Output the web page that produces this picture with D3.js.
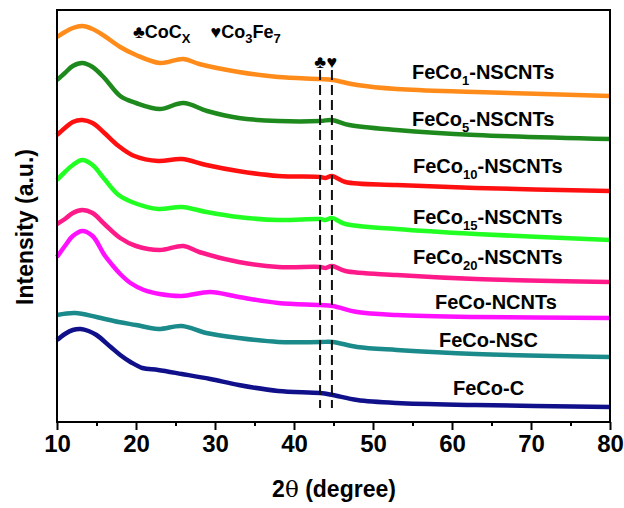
<!DOCTYPE html>
<html>
<head>
<meta charset="utf-8">
<title>XRD patterns</title>
<script src="https://d3js.org/d3.v7.min.js"></script>
<style>
  body { margin: 0; background: #fff; }
  svg text { font-family: Arial, "Liberation Sans", sans-serif; font-weight: bold; fill: #000; }
</style>
</head>
<body>
<div id="chart"></div>
<script>
// readings of each pattern: [2theta, intensity (a.u.)]
var feco1 = [[10,385],[11,390],[12,394],[13.2,396],[14.5,393],[16,386],[18,375],[20,367],[23,359],[26,363],[28,358],[33,350],[38,345],[43.3,343],[44.9,342],[48,337],[53,333],[63,330],[80,326]];
var feco5 = [[10,342],[11,349],[12,356],[13.2,359],[14.5,355],[16,344],[18,326],[20,319],[23,313],[26,319],[29,311],[33,304],[38,301],[43.3,301],[44.8,302],[47,297],[53,292],[63,287],[80,283]];
var feco10 = [[10,287],[11,294],[12,300],[13.2,302],[14.5,299],[16,289],[17.8,276],[19.8,266],[22.8,261],[25.8,263],[28.9,257],[32.9,251],[38,246],[43.3,245],[44,244],[44.8,246],[46.5,240],[53,237],[63,234],[80,231]];
var feco15 = [[10,242],[11,250],[12,257],[13.2,262],[14.5,257],[16,243],[17.8,227],[19.8,219],[22.8,213],[25.8,215],[28.9,210],[32.9,205],[38,202],[43.3,203],[44,202],[44.8,204],[46.5,198],[53,193],[63,188],[80,182]];
var feco20 = [[10,198],[11,203],[12,209],[13.2,212],[14.5,209],[16,198],[18,184],[20,176],[23,172],[26,176],[28,170],[33,160],[38,155],[43.3,155],[44,154],[44.8,156],[46.5,151],[53,147],[63,143],[80,140]];
var fecoNCNTs = [[10,165],[11,176],[12,186],[13.2,191],[14.5,186],[16,167],[17,157],[18,148],[19.3,139],[21,132],[23,128],[25.8,126],[29.4,130],[33,125],[38,119],[43.3,117],[44.9,116],[48,110],[53,107],[63,105],[80,104]];
var fecoNSC = [[10,107],[12.3,109],[15,105],[17.8,100],[20,97],[22.8,93],[25.8,96],[28.9,89],[33,84],[38,80],[43.3,80],[44.9,80],[48,75],[53,72],[63,68],[80,65]];
var fecoC = [[10,82],[11,88],[12,92],[13,93],[14,91],[15,87],[16.8,75],[18,67],[19.3,60],[20.8,54],[22.8,52],[25.8,48],[29.4,43],[33,37],[38,31],[43.3,29],[44.9,27],[48,22],[53,19],[63,17],[80,15]];

var series = [feco1, feco5, feco10, feco15, feco20, fecoNCNTs, fecoNSC, fecoC];
var labelMain = ["FeCo", "FeCo", "FeCo", "FeCo", "FeCo", "FeCo-NCNTs", "FeCo-NSC", "FeCo-C"];
var labelSub = ["1", "5", "10", "15", "20", "", "", ""];
var labelTail = ["-NSCNTs", "-NSCNTs", "-NSCNTs", "-NSCNTs", "-NSCNTs", "", "", ""];
var colors = ["#ff8c1a", "#1e8a1e", "#ff1010", "#22ff22", "#ff1a8a", "#ff10ff", "#1a8a8a", "#10108a"];

var xTicks = [10, 20, 30, 40, 50, 60, 70, 80];
var xMinorTicks = [15, 25, 35, 45, 55, 65, 75];
var phaseLines = [43.3, 44.8];   // CoCx, Co3Fe7

var width = 624, height = 508;
var mLeft = 57, mRight = 610, mTop = 10, mBottom = 422;

var svg = d3.select("#chart").append("svg")
  .attr("width", width)
  .attr("height", height);

var x = d3.scaleLinear().domain([10, 80]).range([mLeft, mRight]);
var y = d3.scaleLinear().domain([0, 412]).range([mBottom, mTop]);

var line = d3.line()
  .x(function(d) { return x(d[0]); })
  .y(function(d) { return y(d[1]); })
  .curve(d3.curveCatmullRom.alpha(0.5));

// patterns
series.forEach(function(s, i) {
  svg.append("path")
    .datum(s)
    .attr("fill", "none")
    .attr("stroke", colors[i])
    .attr("stroke-width", 4.5)
    .attr("stroke-linejoin", "round")
    .attr("d", line);
});

// dashed reference lines
phaseLines.forEach(function(p) {
  svg.append("line")
    .attr("x1", x(p)).attr("x2", x(p))
    .attr("y1", 70).attr("y2", 408)
    .attr("stroke", "#111")
    .attr("stroke-width", 2)
    .attr("stroke-dasharray", "10,5");
});
svg.append("text").attr("x", x(phaseLines[0])).attr("y", 68)
  .attr("text-anchor", "middle").style("font-size", "18px").text("\u2663");
svg.append("text").attr("x", x(phaseLines[1])).attr("y", 68)
  .attr("text-anchor", "middle").style("font-size", "18px").text("\u2665");

// legend of the markers
var key = svg.append("text").attr("x", 133).attr("y", 38).style("font-size", "18px");
key.append("tspan").text("\u2663CoC");
key.append("tspan").attr("dy", 5).style("font-size", "13px").text("X");
key.append("tspan").attr("dy", -5).attr("dx", 20).text("\u2665Co");
key.append("tspan").attr("dy", 5).style("font-size", "13px").text("3");
key.append("tspan").attr("dy", -5).text("Fe");
key.append("tspan").attr("dy", 5).style("font-size", "13px").text("7");

// curve labels
var labelX = [412, 412, 413, 413, 413, 435, 439, 453];
var labelY = [79, 126, 173, 224, 264, 309, 347, 395];
labelMain.forEach(function(name, i) {
  var t = svg.append("text")
    .attr("x", labelX[i])
    .attr("y", labelY[i])
    .style("font-size", "20px");
  t.append("tspan").text(name);
  if (labelSub[i]) {
    t.append("tspan").attr("dy", 6).style("font-size", "13px").text(labelSub[i]);
    t.append("tspan").attr("dy", -6).text(labelTail[i]);
  }
});

// frame
svg.append("rect")
  .attr("x", mLeft).attr("y", mTop)
  .attr("width", mRight - mLeft).attr("height", mBottom - mTop)
  .attr("fill", "none")
  .attr("stroke", "#000")
  .attr("stroke-width", 2);

// x axis
var xAxis = svg.append("g")
  .attr("transform", "translate(0," + mBottom + ")")
  .call(d3.axisBottom(x).tickValues(xTicks).tickSize(8).tickPadding(5).tickFormat(d3.format("d")));
xAxis.select(".domain").remove();
xAxis.selectAll("line").attr("stroke-width", 2);
xAxis.selectAll("text")
  .style("font-size", "24px")
  .style("font-family", "Arial, 'Liberation Sans', sans-serif")
  .style("font-weight", "bold");

var xMinor = svg.append("g")
  .attr("transform", "translate(0," + mBottom + ")")
  .call(d3.axisBottom(x).tickValues(xMinorTicks).tickSize(4).tickFormat(""));
xMinor.select(".domain").remove();
xMinor.selectAll("line").attr("stroke-width", 2);

// axis titles
var xt = svg.append("text")
  .attr("x", 334).attr("y", 497)
  .attr("text-anchor", "middle")
  .style("font-size", "23px");
xt.append("tspan").text("2");
xt.append("tspan").style("font-family", "'DejaVu Serif', serif").style("font-weight", "normal").text("\u03b8");
xt.append("tspan").text(" (degree)");

svg.append("text")
  .attr("transform", "translate(33,227) rotate(-90)")
  .attr("text-anchor", "middle")
  .style("font-size", "23px")
  .text("Intensity (a.u.)");
</script>
</body>
</html>
